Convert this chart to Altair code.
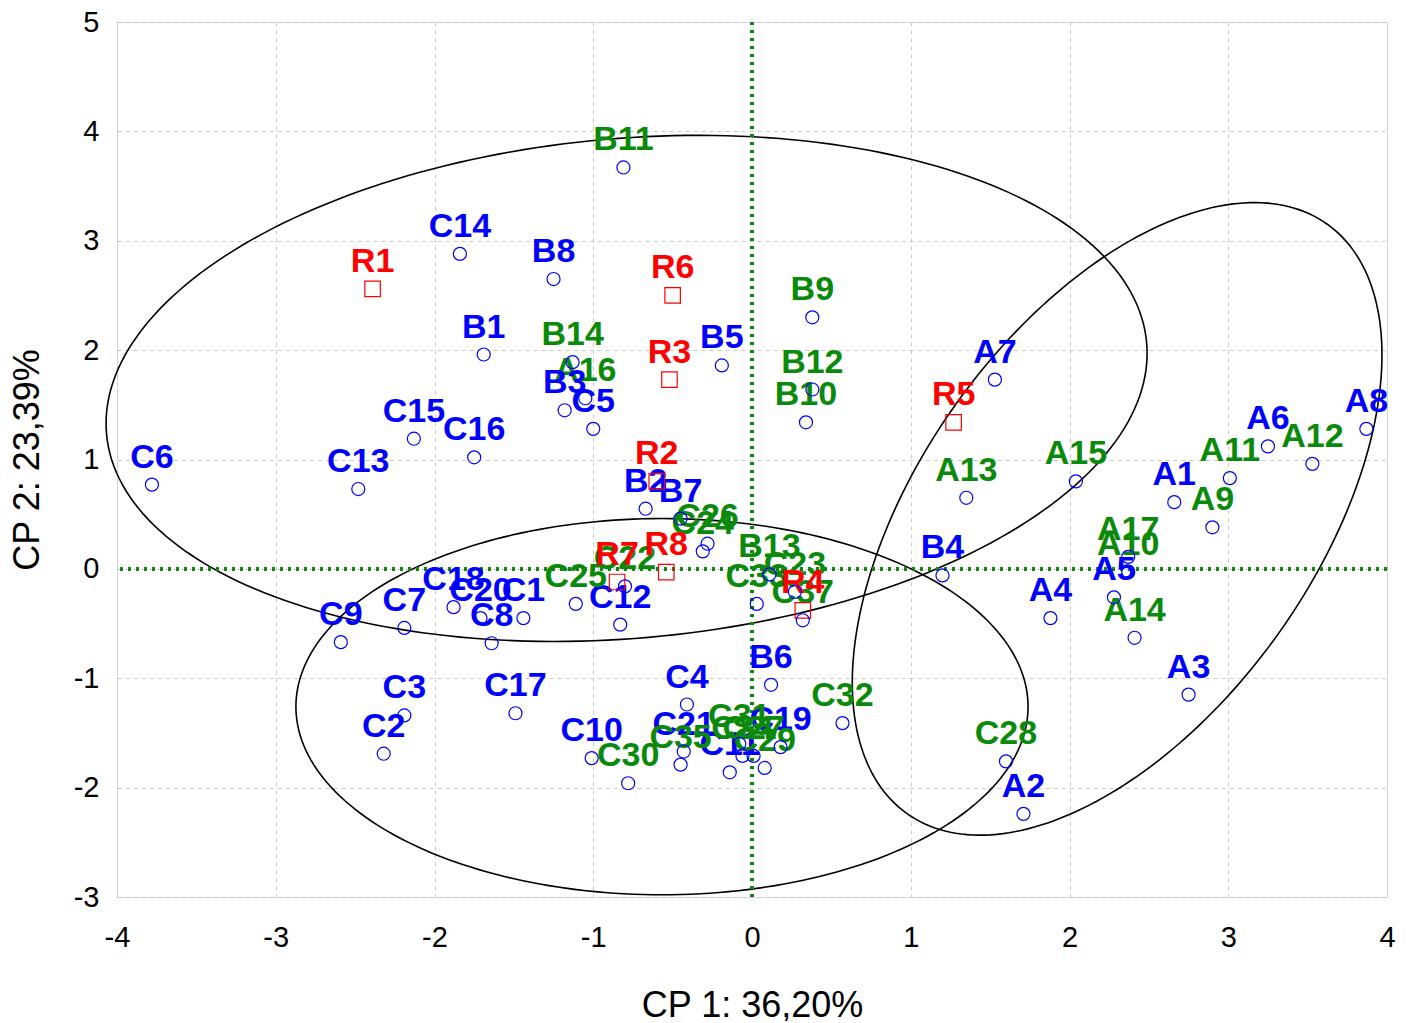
import numpy as np
import pandas as pd
import altair as alt

# ---- data ----
names = ["R1", "R2", "R3", "R4", "R5", "R6", "R7", "R8",
         "A1", "A2", "A3", "A4", "A5", "A6", "A7", "A8",
         "A9", "A10", "A11", "A12", "A13", "A14", "A15", "A16", "A17",
         "B1", "B2", "B3", "B4", "B5", "B6", "B7", "B8",
         "B9", "B10", "B11", "B12", "B13", "B14",
         "C1", "C2", "C3", "C4", "C5", "C6", "C7", "C8", "C9", "C10",
         "C11", "C12", "C13", "C14", "C15", "C16", "C17", "C18", "C19", "C20", "C21",
         "C22", "C23", "C24", "C25", "C26", "C27", "C28", "C29", "C30", "C31",
         "C32", "C33", "C34", "C35", "C37"]
cp1 = [-2.39, -0.60, -0.52, 0.32, 1.27, -0.50, -0.85, -0.54,
       2.66, 1.71, 2.75, 1.88, 2.28, 3.25, 1.53, 3.87,
       2.90, 2.37, 3.01, 3.53, 1.35, 2.41, 2.04, -1.05, 2.37,
       -1.69, -0.67, -1.18, 1.20, -0.19, 0.12, -0.45, -1.25,
       0.38, 0.34, -0.81, 0.38, 0.11, -1.13,
       -1.44, -2.32, -2.19, -0.41, -1.00, -3.78, -2.19, -1.64, -2.59, -1.01,
       -0.14, -0.83, -2.48, -1.84, -2.13, -1.75, -1.49, -1.88, 0.18, -1.71, -0.43,
       -0.80, 0.27, -0.31, -1.11, -0.28, 0.01, 1.60, 0.08, -0.78, -0.08,
       0.57, 0.03, -0.06, -0.45, 0.32]
cp2 = [2.56, 0.80, 1.73, -0.38, 1.34, 2.50, -0.12, -0.03,
       0.61, -2.24, -1.15, -0.45, -0.26, 1.12, 1.73, 1.28,
       0.38, -0.03, 0.83, 0.96, 0.65, -0.63, 0.80, 1.56, 0.11,
       1.96, 0.55, 1.45, -0.06, 1.86, -1.06, 0.46, 2.65,
       2.30, 1.34, 3.67, 1.64, -0.05, 1.89,
       -0.45, -1.69, -1.34, -1.24, 1.28, 0.77, -0.54, -0.68, -0.67, -1.73,
       -1.86, -0.51, 0.73, 2.88, 1.19, 1.02, -1.32, -0.35, -1.63, -0.45, -1.67,
       -0.16, -0.21, 0.16, -0.32, 0.23, -1.71, -1.76, -1.82, -1.96, -1.60,
       -1.41, -0.32, -1.71, -1.79, -0.47]
groups = (["red"] * 8 + ["blue"] * 8 + ["green"] * 9 + ["blue"] * 8 + ["green"] * 6
          + ["blue"] * 21 + ["green"] * 15)

# confidence ellipses: centre, first semi-axis vector, second semi-axis vector (data units)
ell_ids = ["E1", "E2", "E3"]
ell_cx = [-0.79, -0.567, 2.30]
ell_cy = [1.65, -1.26, 0.457]
ell_ux = [3.276, 2.306, 1.324]
ell_uy = [0.416, 0.0, 2.694]
ell_vx = [0.137, 0.0, 1.015]
ell_vy = [-2.276, -1.72, -1.051]

x_ticks = [-4, -3, -2, -1, 0, 1, 2, 3, 4]
y_ticks = [-3, -2, -1, 0, 1, 2, 3, 4, 5]

pts = pd.DataFrame({"name": names, "x": cp1, "y": cp2, "grp": groups})
pts["shape"] = np.where(pts["grp"] == "red", "square", "circle")
pts["mcol"] = np.where(pts["grp"] == "red", "red", "blue")

rows = []
t = np.linspace(0, 2 * np.pi, 241)
for i, eid in enumerate(ell_ids):
    for k, tt in enumerate(t):
        rows.append({"id": eid, "k": k,
                     "x": ell_cx[i] + np.cos(tt) * ell_ux[i] + np.sin(tt) * ell_vx[i],
                     "y": ell_cy[i] + np.cos(tt) * ell_uy[i] + np.sin(tt) * ell_vy[i]})
ell = pd.DataFrame(rows)

FONT = "Liberation Sans"
xs = alt.Scale(domain=[-4, 4], nice=False, zero=False)
ys = alt.Scale(domain=[-3, 5], nice=False, zero=False)
LBL = "datum.value < 0 ? '-' + abs(datum.value) : '' + datum.value"

xax = alt.Axis(values=x_ticks, title="CP 1: 36,20%", grid=True, gridDash=[4, 4],
               gridColor="#c8c8c8", ticks=False, tickSize=0, domain=False,
               labelFontSize=29, labelFont=FONT, labelColor="black", labelPadding=26,
               labelFlush=False, labelOverlap=False, labelExpr=LBL,
               titleFontSize=36, titleFont=FONT, titleFontWeight="normal",
               titleColor="black", titlePadding=36)
yax = alt.Axis(values=y_ticks, title="CP 2: 23,39%", grid=True, gridDash=[4, 4],
               gridColor="#c8c8c8", ticks=False, tickSize=0, domain=False,
               labelFontSize=29, labelFont=FONT, labelColor="black", labelPadding=18,
               labelFlush=False, labelOverlap=False, labelExpr=LBL,
               titleFontSize=36, titleFont=FONT, titleFontWeight="normal",
               titleColor="black", titlePadding=27)

ellipses = alt.Chart(ell).mark_line(color="black", strokeWidth=1.6, clip=False).encode(
    x=alt.X("x:Q", scale=xs, axis=xax),
    y=alt.Y("y:Q", scale=ys, axis=yax),
    detail="id:N",
    order="k:Q",
)

vline = alt.Chart(pts).mark_rule(color="#0a8a0a", strokeWidth=3, strokeDash=[3, 5]).encode(
    x=alt.datum(0, scale=xs))
hline = alt.Chart(pts).mark_rule(color="#0a8a0a", strokeWidth=3, strokeDash=[3, 5]).encode(
    y=alt.datum(0, scale=ys))

color_enc = alt.Color("grp:N", scale=alt.Scale(domain=["blue", "green", "red"],
                                                range=["#0000ff", "#0a8a0a", "#ff0000"]),
                      legend=None)


def label_layer(data):
    return alt.Chart(data).mark_text(fontSize=34, fontWeight="bold", font=FONT, dy=-27,
                                     align="center", baseline="middle").encode(
        x=alt.X("x:Q", scale=xs),
        y=alt.Y("y:Q", scale=ys),
        text="name:N",
        color=color_enc,
    )


labels_other = label_layer(pts[pts["grp"] != "red"])
labels_red = label_layer(pts[pts["grp"] == "red"])

points = alt.Chart(pts).mark_point(filled=False, strokeWidth=1.2, opacity=1).encode(
    x=alt.X("x:Q", scale=xs),
    y=alt.Y("y:Q", scale=ys),
    shape=alt.Shape("shape:N", scale=alt.Scale(domain=["circle", "square"],
                                               range=["circle", "square"]), legend=None),
    stroke=alt.Stroke("mcol:N", scale=alt.Scale(domain=["blue", "red"],
                                                range=["#0000ff", "#ff0000"]), legend=None),
    size=alt.condition(alt.datum.grp == "red", alt.value(240), alt.value(170)),
)

chart = alt.layer(ellipses, vline, hline, labels_other, labels_red, points).properties(
    width=1270, height=875,
    autosize=alt.AutoSizeParams(type="none"),
    padding={"left": 109, "top": 14, "right": 10, "bottom": 124},
).configure_view(stroke="black", strokeWidth=2).configure(background="white")

chart.save("out.html", embed_options={"renderer": "svg", "actions": False})
